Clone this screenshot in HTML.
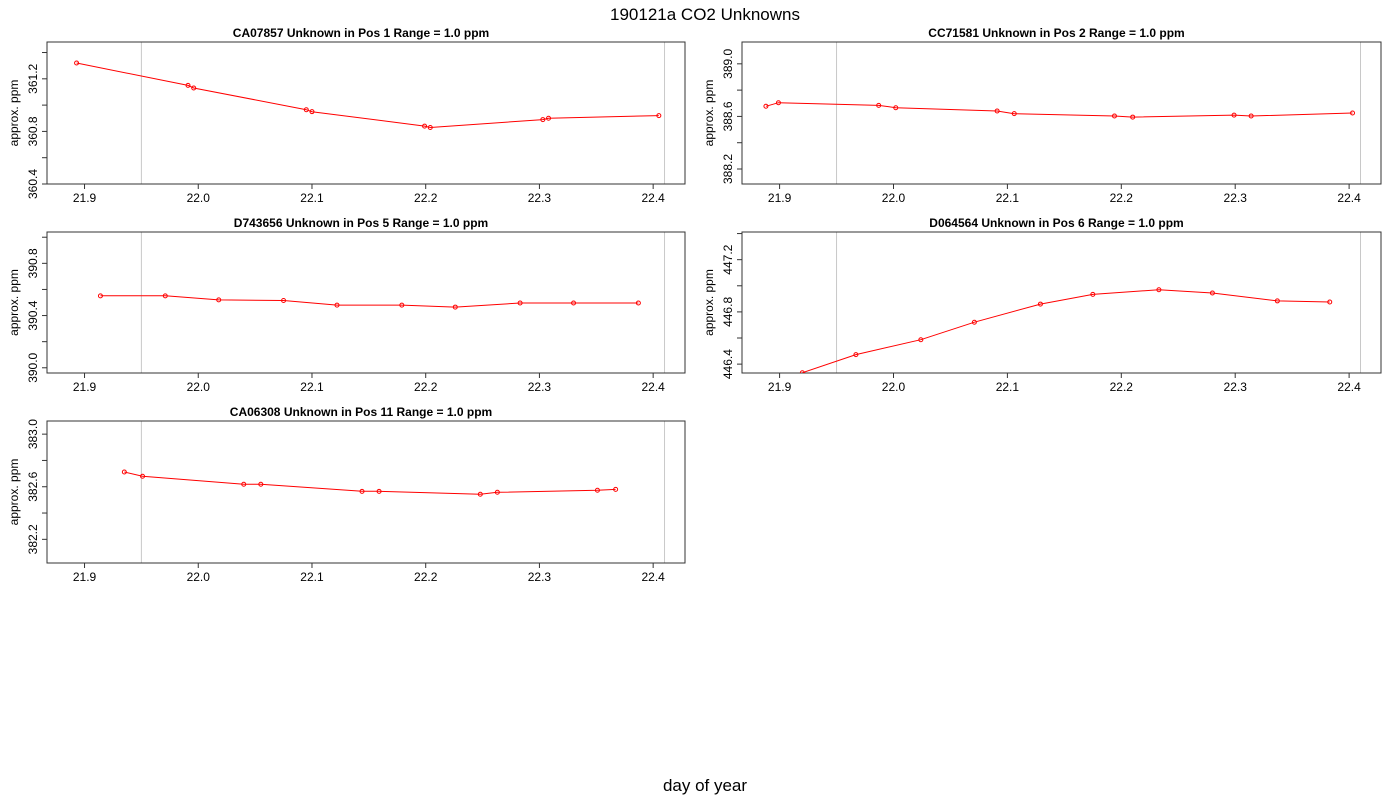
<!DOCTYPE html>
<html><head><meta charset="utf-8"><style>
body{margin:0;background:#fff;}
svg{display:block;font-family:"Liberation Sans",sans-serif;}
</style></head><body>
<svg id="chart" width="1400" height="800" viewBox="0 0 1400 800">
<text x="705" y="20" font-size="17" text-anchor="middle">190121a  CO2 Unknowns</text>
<text x="705" y="791" font-size="17" text-anchor="middle">day of year</text>
</svg>
<script>
const xDomain = [21.867, 22.428];
const xTicks = [21.9, 22.0, 22.1, 22.2, 22.3, 22.4];
const xTickLabels = ["21.9", "22.0", "22.1", "22.2", "22.3", "22.4"];
const refLines = [21.95, 22.41];

const titles = [
  ["CA07857", "Unknown in Pos 1", "Range = 1.0 ppm"],
  ["CC71581", "Unknown in Pos 2", "Range = 1.0 ppm"],
  ["D743656", "Unknown in Pos 5", "Range = 1.0 ppm"],
  ["D064564", "Unknown in Pos 6", "Range = 1.0 ppm"],
  ["CA06308", "Unknown in Pos 11", "Range = 1.0 ppm"]
];
const yMins = [360.40, 388.086, 389.96, 446.332, 382.02];
const yRange = 1.08;
const yTicks1 = [360.4, 360.6, 360.8, 361.0, 361.2, 361.4];
const yTicks2 = [388.2, 388.4, 388.6, 388.8, 389.0];
const yTicks3 = [390.0, 390.2, 390.4, 390.6, 390.8, 391.0];
const yTicks4 = [446.4, 446.6, 446.8, 447.0, 447.2, 447.4];
const yTicks5 = [382.2, 382.4, 382.6, 382.8, 383.0];
const yLabels1 = [360.4, 360.8, 361.2];
const yLabels2 = [388.2, 388.6, 389.0];
const yLabels3 = [390.0, 390.4, 390.8];
const yLabels4 = [446.4, 446.8, 447.2];
const yLabels5 = [382.2, 382.6, 383.0];

const x1 = [21.893, 21.991, 21.996, 22.095, 22.100, 22.199, 22.204, 22.303, 22.308, 22.405];
const v1 = [361.32, 361.15, 361.13, 360.965, 360.95, 360.84, 360.83, 360.89, 360.90, 360.92];
const x2 = [21.888, 21.899, 21.987, 22.002, 22.091, 22.106, 22.194, 22.210, 22.299, 22.314, 22.403];
const v2 = [388.677, 388.704, 388.684, 388.666, 388.641, 388.621, 388.603, 388.595, 388.61, 388.603, 388.626];
const x3 = [21.914, 21.971, 22.018, 22.075, 22.122, 22.179, 22.226, 22.283, 22.330, 22.387];
const v3 = [390.551, 390.551, 390.52, 390.515, 390.48, 390.48, 390.465, 390.496, 390.496, 390.496];
const x4 = [21.920, 21.967, 22.024, 22.071, 22.129, 22.175, 22.233, 22.280, 22.337, 22.383];
const v4 = [446.334, 446.473, 446.587, 446.721, 446.86, 446.934, 446.97, 446.945, 446.884, 446.876];
const x5 = [21.935, 21.951, 22.040, 22.055, 22.144, 22.159, 22.248, 22.263, 22.351, 22.367];
const v5 = [382.712, 382.68, 382.619, 382.619, 382.565, 382.565, 382.543, 382.558, 382.573, 382.58];

const xs = [x1, x2, x3, x4, x5];
const vs = [v1, v2, v3, v4, v5];
const yTickSets = [yTicks1, yTicks2, yTicks3, yTicks4, yTicks5];
const yLabelSets = [yLabels1, yLabels2, yLabels3, yLabels4, yLabels5];
const boxes = [[47,42,685,184],[742,42,1381,184],[47,232,685,373],[742,232,1381,373],[47,421,685,563]];

const NS = "http://www.w3.org/2000/svg";
const svg = document.getElementById('chart');
function mk(tag, attrs, parent) {
  const e = document.createElementNS(NS, tag);
  for (const k in attrs) e.setAttribute(k, attrs[k]);
  (parent || svg).appendChild(e);
  return e;
}

boxes.forEach((b, i) => {
  const [L, T, R, B] = b;
  const g = mk('g', {});
  
  
  const sx = v => L + (v - xDomain[0]) / (xDomain[1] - xDomain[0]) * (R - L);
  const sy = v => B - (v - yMins[i]) / yRange * (B - T);

  // reference lines
  refLines.forEach(r => {
    const l = mk('line', {x1: sx(r), x2: sx(r), y1: T, y2: B, stroke: '#c8c8c8', 'stroke-width': 1}, g);
    
    
  });
  // box
  const rect = mk('rect', {x: L, y: T, width: R - L, height: B - T, fill: 'none', stroke: '#333', 'stroke-width': 1}, g);
  
  

  // title
  const t = titles[i];
  const cx = (L + R) / 2;
  const tt = mk('text', {x: cx - 5, y: T - 5, 'font-size': 12, 'font-weight': 'bold', 'text-anchor': 'middle', 'xml:space': 'preserve'}, g);
  tt.textContent = t[0] + '    ' + t[1] + '         ' + t[2];
  
  

  // x axis
  xTicks.forEach((v, j) => {
    const x = sx(v);
    const tk = mk('line', {x1: x, x2: x, y1: B, y2: B + 5, stroke: '#333'}, g);
    
    
    const lb = mk('text', {x: x, y: B + 18, 'font-size': 12, 'text-anchor': 'middle'}, g);
    lb.textContent = xTickLabels[j];
    
    
  });

  // y axis
  const yt = yTickSets[i];
  const ax = mk('line', {x1: L, x2: L, y1: sy(yt[0]), y2: sy(yt[yt.length - 1]), stroke: '#333'}, g);
  
  
  yt.forEach(v => {
    const y = sy(v);
    const tk = mk('line', {x1: L - 5, x2: L, y1: y, y2: y, stroke: '#333'}, g);
    
    
  });
  yLabelSets[i].forEach(v => {
    const y = sy(v);
    const lb = mk('text', {x: L - 10, y: y, 'font-size': 12, 'text-anchor': 'middle', transform: `rotate(-90 ${L - 10} ${y})`}, g);
    lb.textContent = v.toFixed(1);
    
    
  });
  const ylab = mk('text', {x: L - 29, y: (T + B) / 2, 'font-size': 12, 'text-anchor': 'middle', transform: `rotate(-90 ${L - 29} ${(T + B) / 2})`}, g);
  ylab.textContent = 'approx. ppm';
  
  

  // series
  const X = xs[i], V = vs[i];
  const clip = mk('clipPath', {id: 'clip' + i}, g);
  mk('rect', {x: L, y: T, width: R - L, height: B - T}, clip);
  const sg = mk('g', {'clip-path': `url(#clip${i})`}, g);
  
  
  const pts = X.map((x, k) => sx(x).toFixed(1) + ',' + sy(V[k]).toFixed(1)).join(' ');
  const pl = mk('polyline', {points: pts, fill: 'none', stroke: '#ff0000', 'stroke-width': 1}, sg);
  
  
  X.forEach((x, k) => {
    const c = mk('circle', {cx: sx(x), cy: sy(V[k]), r: 2, fill: 'none', stroke: '#ff0000', 'stroke-width': 1}, sg);
    
    
  });
});
</script>
</body></html>
